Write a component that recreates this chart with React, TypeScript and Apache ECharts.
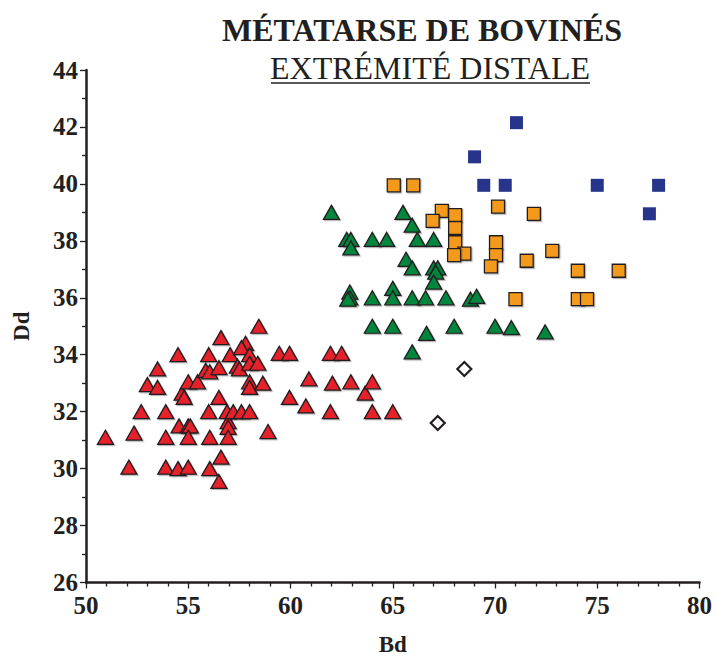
import React, { useEffect, useRef } from "react";
import * as echarts from "echarts";

const titleText = "MÉTATARSE DE BOVINÉS";
const subtitleText = "EXTRÉMITÉ DISTALE";
const xName = "Bd";
const yName = "Dd";

const redPoints: number[][] = [
  [50.95, 31.1], [52.1, 30.05], [52.35, 31.25], [52.7, 32.0], [53.0, 32.95],
  [53.5, 33.5], [53.5, 32.85], [53.9, 32.0], [53.9, 31.1], [53.9, 30.05],
  [54.5, 34.0], [54.5, 30.0], [54.55, 31.5], [54.7, 32.65], [54.8, 32.5],
  [55.0, 33.05], [55.0, 31.5], [55.1, 31.5], [55.0, 31.1], [55.0, 30.05],
  [55.45, 33.05], [55.85, 33.45], [56.05, 33.4], [56.0, 34.0], [56.0, 32.0],
  [56.05, 31.1], [56.05, 30.0], [56.5, 33.55], [56.5, 32.5], [56.6, 34.6],
  [56.6, 30.4], [56.5, 29.55], [56.9, 32.0], [56.95, 31.65], [56.95, 31.45],
  [56.95, 31.1], [57.05, 34.0], [57.2, 32.0], [57.4, 33.6], [57.5, 33.5],
  [57.6, 32.0], [57.8, 34.4], [57.6, 34.25], [58.0, 34.0], [58.0, 33.7],
  [58.0, 33.05], [58.0, 32.85], [58.0, 32.0], [58.4, 33.7], [58.45, 35.0],
  [58.65, 33.0], [58.9, 31.3], [59.45, 34.05], [59.95, 34.05], [59.95, 32.5],
  [60.9, 33.15], [60.75, 32.2], [61.95, 34.05], [62.5, 34.05], [62.05, 33.0],
  [61.95, 32.0], [62.95, 33.05], [63.65, 32.65], [64.0, 33.05], [64.0, 32.0],
  [65.0, 32.0]
];

const greenPoints: number[][] = [
  [62.0, 39.0], [65.5, 39.0], [65.95, 38.55], [62.75, 38.05], [62.95, 38.05],
  [62.95, 37.75], [64.0, 38.05], [64.7, 38.05], [66.2, 38.05], [67.0, 38.05],
  [65.65, 37.35], [65.95, 37.05], [67.0, 37.05], [67.2, 37.05], [67.1, 36.9],
  [67.0, 36.55], [62.9, 36.2], [62.9, 36.0], [62.8, 35.95], [64.0, 36.0],
  [65.0, 36.33], [65.0, 36.0], [65.95, 36.0], [66.6, 36.0], [67.6, 36.0],
  [68.8, 35.95], [69.1, 36.05], [64.0, 35.0], [65.0, 35.0], [66.65, 34.75],
  [68.0, 35.0], [70.0, 35.0], [70.8, 34.95], [72.45, 34.8], [65.95, 34.1]
];

const orangePoints: number[][] = [
  [65.05, 39.95], [66.0, 39.95], [67.4, 39.05], [66.95, 38.7], [68.05, 38.9],
  [68.05, 38.45], [68.05, 37.95], [68.5, 37.55], [68.0, 37.5], [70.15, 39.2],
  [71.9, 38.95], [70.05, 37.95], [70.05, 37.5], [69.8, 37.1], [71.55, 37.3],
  [72.8, 37.65], [74.05, 36.95], [74.05, 35.95], [76.05, 36.95], [71.0, 35.95],
  [74.5, 35.95]
];

const bluePoints: number[][] = [
  [71.05, 42.15], [69.0, 40.95], [69.45, 39.95], [70.5, 39.95], [75.0, 39.95],
  [78.0, 39.95], [77.55, 38.95]
];

const whitePoints: number[][] = [
  [68.5, 33.5], [67.2, 31.6]
];

const xMin = 50, xMax = 80, xStep = 5;
const yMin = 26, yMax = 44, yStep = 2;

const FONT = '"Liberation Serif", "Times New Roman", Times, serif';
const BORDER = "#231F20";

export default function App() {
  const ref = useRef<HTMLDivElement>(null);
  useEffect(() => {
    if (!ref.current) return;
    const chart = echarts.init(ref.current, undefined, { renderer: "svg" });
    const shadow = {
      shadowColor: "rgba(0,0,0,0.28)",
      shadowOffsetX: 1.2,
      shadowOffsetY: 1.2,
      shadowBlur: 0.5,
    };
    chart.setOption({
      animation: false,
      backgroundColor: "#ffffff",
      grid: {
        left: 86,
        top: 70,
        right: 17.5,
        bottom: 74.5,
        containLabel: false,
        outerBoundsMode: "none",
      },
      graphic: [
        {
          type: "text",
          x: 422,
          y: 30,
          style: {
            text: titleText,
            fill: "#231F20",
            font: `bold 32px ${FONT}`,
            textAlign: "center",
            textVerticalAlign: "middle",
          },
        },
        {
          type: "text",
          x: 430,
          y: 68,
          style: {
            text: subtitleText,
            fill: "#231F20",
            font: `32px ${FONT}`,
            textAlign: "center",
            textVerticalAlign: "middle",
          },
        },
        {
          type: "line",
          shape: { x1: 271, y1: 83, x2: 590, y2: 83 },
          style: { stroke: "#231F20", lineWidth: 1.5 },
        },
      ],
      xAxis: {
        type: "value",
        min: xMin,
        max: xMax,
        interval: xStep,
        name: xName,
        nameLocation: "middle",
        nameGap: 50,
        nameTextStyle: { fontFamily: FONT, fontWeight: "bold", fontSize: 23, color: BORDER },
        axisLine: { show: true, onZero: false, lineStyle: { color: BORDER, width: 2.5 } },
        axisTick: { show: true, inside: false, length: 6, lineStyle: { color: BORDER, width: 1.3 } },
        minorTick: { show: true, splitNumber: 5, length: 4, lineStyle: { color: BORDER, width: 1.3 } },
        axisLabel: { fontFamily: FONT, fontWeight: "bold", fontSize: 25, color: BORDER, margin: 10 },
        splitLine: { show: false },
      },
      yAxis: {
        type: "value",
        min: yMin,
        max: yMax,
        interval: yStep,
        name: yName,
        nameLocation: "middle",
        nameGap: 53,
        nameRotate: 90,
        nameTextStyle: { fontFamily: FONT, fontWeight: "bold", fontSize: 23, color: BORDER },
        axisLine: { show: true, onZero: false, lineStyle: { color: BORDER, width: 2.5 } },
        axisTick: { show: true, inside: false, length: 6, lineStyle: { color: BORDER, width: 1.3 } },
        minorTick: { show: true, splitNumber: 2, length: 4, lineStyle: { color: BORDER, width: 1.3 } },
        axisLabel: { fontFamily: FONT, fontWeight: "bold", fontSize: 25, color: BORDER, margin: 8 },
        splitLine: { show: false },
      },
      series: [
        {
          type: "scatter",
          name: "red",
          data: redPoints,
          symbol: "triangle",
          symbolSize: [16, 14],
          itemStyle: { color: "#E5202A", opacity: 1, borderColor: BORDER, borderWidth: 1.3, ...shadow },
        },
        {
          type: "scatter",
          name: "green",
          data: greenPoints,
          symbol: "triangle",
          symbolSize: [16, 14],
          itemStyle: { color: "#00873D", opacity: 1, borderColor: BORDER, borderWidth: 1.3, ...shadow },
        },
        {
          type: "scatter",
          name: "orange",
          data: orangePoints,
          symbol: "rect",
          symbolSize: [13, 13],
          itemStyle: { color: "#F39A1E", opacity: 1, borderColor: BORDER, borderWidth: 1.3, ...shadow },
        },
        {
          type: "scatter",
          name: "blue",
          data: bluePoints,
          symbol: "rect",
          symbolSize: [13, 13],
          itemStyle: { color: "#26348B", opacity: 1 },
        },
        {
          type: "scatter",
          name: "white",
          data: whitePoints,
          symbol: "diamond",
          symbolSize: [14, 14],
          itemStyle: { color: "#ffffff", opacity: 1, borderColor: BORDER, borderWidth: 2.2 },
        },
      ],
    });
    return () => chart.dispose();
  }, []);
  return (
    <div
      ref={ref}
      style={{ position: "fixed", left: 0, top: 0, width: 717, height: 657, background: "#fff" }}
    />
  );
}
